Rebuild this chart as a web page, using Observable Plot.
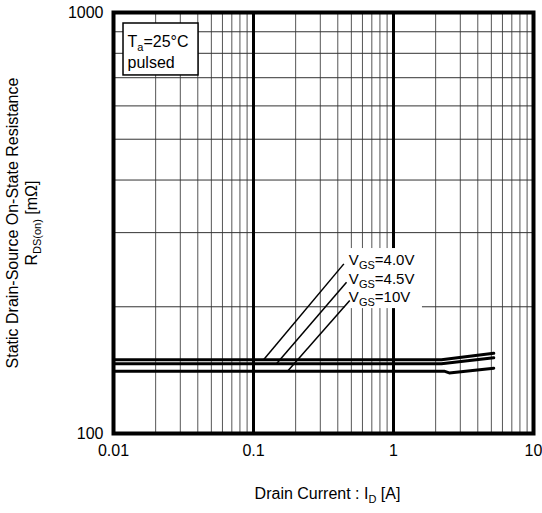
<!DOCTYPE html>
<html><head><meta charset="utf-8">
<script src="https://cdn.jsdelivr.net/npm/d3@7"></script>
<script src="https://cdn.jsdelivr.net/npm/@observablehq/plot@0.6"></script>
<style>body{margin:0;background:#fff}</style>
</head><body><div id="chart"></div>
<script>
// Axis ticks
const xTicks = [0.01, 0.1, 1, 10];
const yTicks = [100, 1000];
const xMajorGrid = [0.1, 1];
const xMinorGrid = [0.02,0.03,0.04,0.05,0.06,0.07,0.08,0.09,0.2,0.3,0.4,0.5,0.6,0.7,0.8,0.9,2,3,4,5,6,7,8,9];
const yMinorGrid = [200,300,400,500,600,700,800,900];

// Series: Drain current [A] vs R_DS(on) [mΩ]
const seriesNames = ["4.0V", "4.5V", "10V"];
const current40 = [0.01, 2.2, 5.2];
const rds40     = [149.7, 149.7, 155.1];
const current45 = [0.01, 2.2, 5.2];
const rds45     = [146.5, 146.5, 151.3];
const current10 = [0.01, 2.3, 2.5, 5.2];
const rds10     = [140.6, 140.6, 139.3, 142.9];

// Annotations (data coordinates)
const labelText  = ["V_{GS}=4.0V", "V_{GS}=4.5V", "V_{GS}=10V"];
const labelX     = [0.48, 0.48, 0.48];
const labelY     = [257.6, 232.8, 211.0];
const leaderX1   = [0.118, 0.146, 0.175];
const leaderY1   = [149.7, 146.5, 140.6];
const leaderX2   = [0.442, 0.462, 0.487];
const leaderY2   = [252.9, 228.8, 207.0];
const labelBg    = {x1: 0.454, x2: 1.61, y1: 198, y2: 275};
const condBox    = {x1: 0.01179, x2: 0.0405, y1: 708.7, y2: 941.6};
const condText   = ["T_{a}=25°C", "pulsed"];
const condX      = [0.0126, 0.0126];
const condY      = [853, 760];

const curves = [];
[[current40, rds40], [current45, rds45], [current10, rds10]].forEach(([xs, ys], k) => {
  xs.forEach((x, i) => curves.push({series: seriesNames[k], x, y: ys[i]}));
});
const labels = labelText.map((t, i) => ({t, x: labelX[i], y: labelY[i]}));
const leaders = leaderX1.map((_, i) => ({x1: leaderX1[i], y1: leaderY1[i], x2: leaderX2[i], y2: leaderY2[i]}));
const conds = condText.map((t, i) => ({t, x: condX[i], y: condY[i]}));

const FONT = "'Liberation Sans', Arial, sans-serif";

const plot = Plot.plot({
  width: 542,
  height: 513,
  marginLeft: 113,
  marginRight: 9,
  marginTop: 12,
  marginBottom: 80,
  style: {fontFamily: FONT, fontSize: "16px", color: "black", background: "white"},
  x: {type: "log", domain: [0.01, 10]},
  y: {type: "log", domain: [100, 1000]},
  marks: [
    Plot.ruleX(xMinorGrid, {stroke: "#555", strokeWidth: 1}),
    Plot.ruleY(yMinorGrid, {stroke: "#333", strokeWidth: 1}),
    Plot.ruleX(xMajorGrid, {stroke: "black", strokeWidth: 3}),
    Plot.rect([labelBg], {x1: "x1", x2: "x2", y1: "y1", y2: "y2", fill: "white"}),
    Plot.line(curves, {x: "x", y: "y", z: "series", stroke: "black", strokeWidth: 3}),
    Plot.link(leaders, {x1: "x1", y1: "y1", x2: "x2", y2: "y2", stroke: "black", strokeWidth: 1.5}),
    Plot.text(labels, {x: "x", y: "y", text: "t", textAnchor: "start", fontSize: 15}),
    Plot.rect([condBox], {x1: "x1", x2: "x2", y1: "y1", y2: "y2", fill: "white", stroke: "black", strokeWidth: 1.5}),
    Plot.text(conds, {x: "x", y: "y", text: "t", textAnchor: "start", fontSize: 16}),
    Plot.axisX(xTicks, {tickSize: 0, tickPadding: 11, tickFormat: d => String(d), fontSize: 16, label: null}),
    Plot.axisY(yTicks, {tickSize: 0, tickPadding: 10, tickFormat: d => String(d), fontSize: 16, label: null}),
    Plot.text(["Drain Current : I_{D} [A]"], {frameAnchor: "bottom", dy: 65, dx: 4, fontSize: 16}),
    Plot.text(["Static Drain-Source On-State Resistance"], {frameAnchor: "left", textAnchor: "middle", dx: -101, rotate: -90, fontSize: 16}),
    Plot.text(["R_{DS(on)} [mΩ]"], {frameAnchor: "left", textAnchor: "middle", dx: -82, rotate: -90, fontSize: 16}),
    Plot.frame({stroke: "black", strokeWidth: 4})
  ]
});

// Render subscripts written as _{...}
d3.select(plot).selectAll("text").each(function() {
  const el = this;
  const txt = el.textContent;
  if (!txt.includes("_{")) return;
  const parts = txt.split(/(_\{[^}]*\})/).filter(s => s.length);
  el.textContent = "";
  let shifted = false;
  for (const p of parts) {
    const ts = d3.select(el).append("tspan");
    if (p.startsWith("_{")) {
      ts.text(p.slice(2, -1)).attr("font-size", "11px").attr("dy", "4");
      shifted = true;
    } else {
      ts.text(p);
      if (shifted) { ts.attr("dy", "-4"); shifted = false; }
    }
  }
});

document.getElementById("chart").appendChild(plot);
</script>
</body></html>
